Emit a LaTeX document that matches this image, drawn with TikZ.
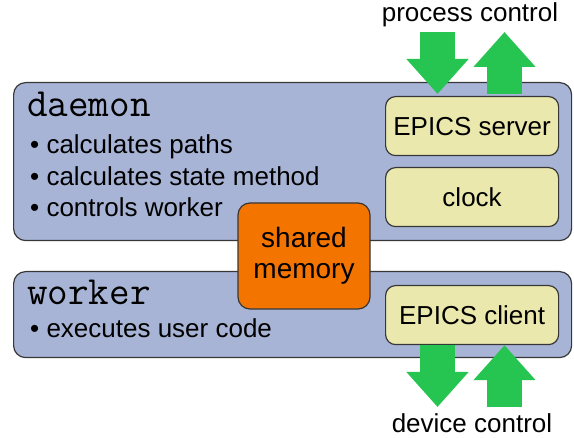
\documentclass[tikz,border=0pt]{standalone}
\usepackage{fontspec}
\setmainfont{Liberation Sans}
\usetikzlibrary{arrows.meta}

\definecolor{procblue}{RGB}{168,180,214}
\definecolor{partyellow}{RGB}{234,232,172}
\definecolor{memorange}{RGB}{244,116,0}
\definecolor{flowgreen}{RGB}{38,196,80}
\definecolor{edgegray}{RGB}{55,55,55}

\tikzset{
  procbox/.style={draw=edgegray, fill=procblue, line width=1.2pt, rounded corners=12pt,
    minimum width=558pt, anchor=north west, inner sep=0pt},
  partbox/.style={draw=edgegray, fill=partyellow, line width=1.2pt, rounded corners=10pt,
    minimum width=173pt, minimum height=59pt, anchor=north west, inner sep=0pt,
    font=\fontsize{26}{30}\selectfont},
  procname/.style={anchor=base west, inner sep=0pt, font=\ttfamily\fontsize{40}{42}\selectfont},
  duty/.style={anchor=base west, inner sep=0pt, font=\fontsize{26}{30}\selectfont},
  flow/.style={draw=flowgreen, line width=35pt, -{Triangle[width=60pt,length=35pt]}},
  flowlabel/.style={inner sep=0pt, font=\fontsize{26}{30}\selectfont}
}

\begin{document}
\begin{tikzpicture}[x=1pt, y=-1pt]
    \useasboundingbox (0,0) rectangle (574,438);
    % Draw processes
    \node[procbox, minimum height=158pt] (daemon) at (13,82) {};
    \node[procbox, minimum height=86pt] (worker) at (13,271) {};
    % Names and duties
    \node[procname] (dname) at (27,117) {daemon};
    \foreach \txt [count=\i] in {calculates paths, calculates state method, controls worker}
        \node[duty] (duty\i) at (30,{122.5+31.5*\i}) {\textbullet\ \txt};
    \node[procname] (wname) at (27,305) {worker};
    \node[duty] (wduty) at (30,338) {\textbullet\ executes user code};
    % Draw parts
    \node[partbox] (srv) at (385,96) {EPICS server};
    \node[partbox] (clk) at (385,167) {clock};
    \node[partbox] (cli) at (385,285) {EPICS client};
    % Shared memory
    \node[draw=edgegray, fill=memorange, line width=1.2pt, rounded corners=12pt,
        minimum width=132pt, minimum height=106pt, inner sep=0pt, align=center,
        font=\fontsize{28}{31}\selectfont] (shm) at (304,256) {shared\\memory};
    % Draw flows
    \node[flowlabel] (pclabel) at (470,15) {process control};
    \node[flowlabel] (dclabel) at (472,423) {device control};
    \coordinate (pcin) at (437.5,32);
    \coordinate (pcout) at (504.5,32);
    \coordinate (dcout) at (437.5,407);
    \coordinate (dcin) at (504.5,407);
    \draw[flow] (pcin) -- ([yshift=2pt]pcin |- srv.north);
    \draw[flow] ([yshift=2pt]pcout |- srv.north) -- (pcout);
    \draw[flow] (dcout |- cli.south) -- (dcout);
    \draw[flow] (dcin) -- (dcin |- cli.south);
\end{tikzpicture}
\end{document}
